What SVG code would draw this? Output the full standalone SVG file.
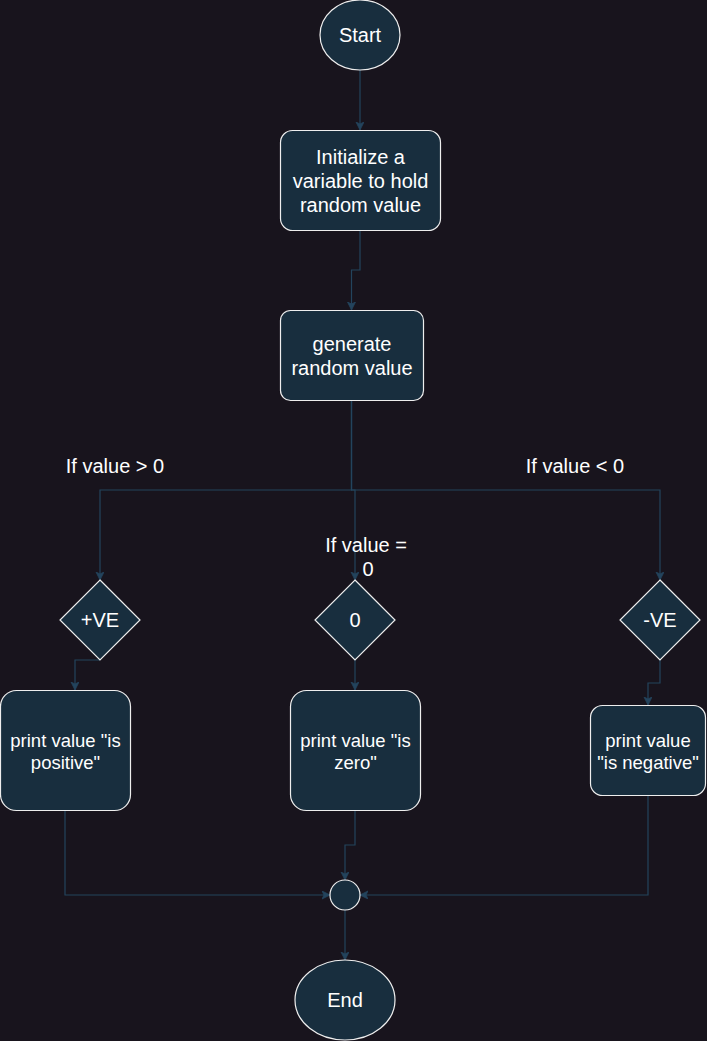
<svg xmlns="http://www.w3.org/2000/svg" width="707" height="1041" viewBox="0 0 707 1041">
<defs>
<style>
.node{fill:#182E3E;stroke:#EEEEEE;stroke-width:1.2}
.t{fill:#FFFFFF;font-family:"Liberation Sans",Arial,sans-serif;font-size:20px;text-anchor:middle}
.s{font-size:18.5px}
.e{fill:none;stroke:#23445D;stroke-width:1.2}
</style>
<marker id="arr" markerUnits="userSpaceOnUse" markerWidth="10" markerHeight="10" refX="8" refY="4" orient="auto">
<path d="M0,0 L8,4 L0,8 L2,4 Z" fill="#23445D" stroke="#23445D" stroke-width="0.8"/>
</marker>
</defs>
<rect x="0" y="0" width="707" height="1041" fill="#18141D"/>
<g id="connectors">
<path class="e" d="M360 70 V130" marker-end="url(#arr)"/>
<path class="e" d="M360 230 V270 H351.5 V310" marker-end="url(#arr)"/>
<path class="e" d="M351.5 400 V490 H100 V580" marker-end="url(#arr)"/>
<path class="e" d="M351.5 400 V490 H355 V580" marker-end="url(#arr)"/>
<path class="e" d="M351.5 400 V490 H660 V580" marker-end="url(#arr)"/>
<path class="e" d="M100 660 H75 V690" marker-end="url(#arr)"/>
<path class="e" d="M355 660 V690" marker-end="url(#arr)"/>
<path class="e" d="M660 660 V683 H648 V705" marker-end="url(#arr)"/>
<path class="e" d="M65 810 V895 H330" marker-end="url(#arr)"/>
<path class="e" d="M355 810 V845 H345 V880" marker-end="url(#arr)"/>
<path class="e" d="M648 795 V895 H360" marker-end="url(#arr)"/>
<path class="e" d="M345 910 V960" marker-end="url(#arr)"/>
</g>
<g id="labels">
<text class="t" x="115" y="473">If value &gt; 0</text>
<text class="t" x="575" y="473">If value &lt; 0</text>
<text class="t" x="366" y="552">If value =</text>
<text class="t" x="368" y="576">0</text>
</g>
<g id="start">
<ellipse class="node" cx="360" cy="35" rx="40" ry="35"/>
<text class="t" x="360" y="42">Start</text>
</g>
<g id="init">
<rect class="node" x="280.5" y="130.5" width="160" height="100" rx="12"/>
<text class="t" x="360.5" y="164">Initialize a</text>
<text class="t" x="360.5" y="188">variable to hold</text>
<text class="t" x="360.5" y="212">random value</text>
</g>
<g id="generate">
<rect class="node" x="280.5" y="310.5" width="143" height="90" rx="10"/>
<text class="t" x="352" y="351">generate</text>
<text class="t" x="352" y="375">random value</text>
</g>
<g id="dec-pos">
<polygon class="node" points="100,580 140,620 100,660 60,620"/>
<text class="t" x="100" y="627">+VE</text>
</g>
<g id="dec-zero">
<polygon class="node" points="355,580 395,620 355,660 315,620"/>
<text class="t" x="355" y="627">0</text>
</g>
<g id="dec-neg">
<polygon class="node" points="660,580 700,620 660,660 620,620"/>
<text class="t" x="660" y="627">-VE</text>
</g>
<g id="print-pos">
<rect class="node" x="0.5" y="690.5" width="130" height="120" rx="16"/>
<text class="t s" x="65.5" y="747">print value "is</text>
<text class="t s" x="65.5" y="769">positive"</text>
</g>
<g id="print-zero">
<rect class="node" x="290.5" y="690.5" width="130" height="120" rx="16"/>
<text class="t s" x="355.5" y="747">print value "is</text>
<text class="t s" x="355.5" y="769">zero"</text>
</g>
<g id="print-neg">
<rect class="node" x="590.5" y="705.5" width="115" height="90" rx="12"/>
<text class="t s" x="648" y="747">print value</text>
<text class="t s" x="648" y="769">"is negative"</text>
</g>
<g id="merge">
<circle class="node" cx="345" cy="895" r="15"/>
</g>
<g id="end">
<ellipse class="node" cx="345" cy="1000" rx="50" ry="40"/>
<text class="t" x="345" y="1007">End</text>
</g>
</svg>
